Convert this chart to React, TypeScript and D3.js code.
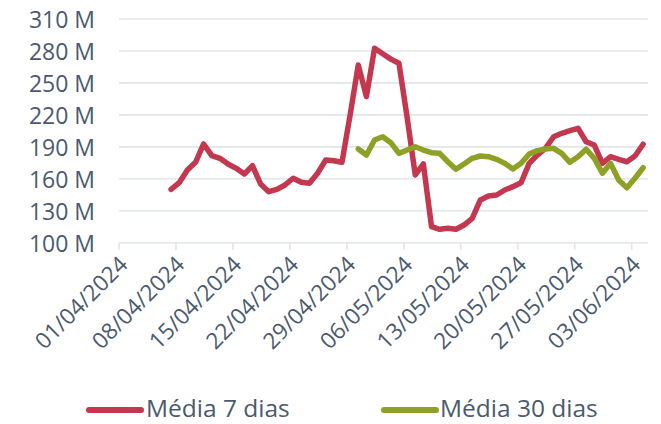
import React from "react";
import * as d3 from "d3";

const startDate7 = "2024-04-07";
const startDate30 = "2024-04-30";
const media7: number[] = [
  150.1, 156.3, 168.2, 175.5, 192.7, 181.7, 179.2, 173.9, 169.8, 164.5,
  172.3, 155.1, 147.9, 150.1, 154.2, 160.5, 156.7, 155.8, 165.2, 177.6,
  177.0, 175.5, 220.0, 266.8, 237.1, 282.5, 277.4, 272.3, 268.4, 217.8,
  163.6, 173.9, 115.0, 112.6, 113.5, 112.6, 116.6, 122.9, 140.1, 143.8,
  144.8, 149.5, 152.6, 156.3, 174.5, 182.3, 188.6, 199.5, 202.7, 205.1,
  207.4, 194.8, 191.7, 174.5, 180.7, 178.3, 176.0, 181.4, 192.4,
];
const media30: number[] = [
  188.0, 182.3, 196.4, 199.5, 193.9, 183.9, 187.0, 190.1, 187.0, 184.5,
  183.9, 176.0, 168.9, 173.9, 179.2, 181.4, 180.7, 178.3, 174.5, 169.2,
  174.5, 183.3, 186.4, 188.0, 188.6, 183.9, 175.5, 180.7, 187.7, 179.2,
  165.2, 174.5, 158.9, 151.6, 160.5, 170.4,
];
const yTicks: number[] = [100, 130, 160, 190, 220, 250, 280, 310];
const xTickLabels: string[] = [
  "01/04/2024", "08/04/2024", "15/04/2024", "22/04/2024", "29/04/2024",
  "06/05/2024", "13/05/2024", "20/05/2024", "27/05/2024", "03/06/2024",
];
const seriesNames = ["Média 7 dias", "Média 30 dias"];

const RED = "#c3384f";
const GREEN = "#8ea126";
const TEXT = "#4b5a6e";
const GRID = "#e1e6ec";
const FONT = "'Open Sans', sans-serif";

const parseDMY = (s: string) => {
  const [d, m, y] = s.split("/").map(Number);
  return new Date(Date.UTC(y, m - 1, d));
};
const DAY = 86400000;
const toSeries = (start: string, vals: number[]) => {
  const t0 = new Date(start + "T00:00:00Z").getTime();
  // points are stamped a little after midnight in the source
  return vals.map((v, i) => ({ date: new Date(t0 + i * DAY + 0.4 * DAY), value: v }));
};

export default function App() {
  const W = 661, H = 424;
  const x = d3
    .scaleUtc()
    .domain([new Date(Date.UTC(2024, 3, 1)), new Date(Date.UTC(2024, 5, 5))])
    .range([119, 648]);
  const y = d3.scaleLinear().domain([100, 310]).range([242.7, 19]);

  const line = d3
    .line<{ date: Date; value: number }>()
    .x((d) => x(d.date))
    .y((d) => y(d.value));

  const s7 = toSeries(startDate7, media7);
  const s30 = toSeries(startDate30, media30);

  return (
    <svg
      width={W}
      height={H}
      style={{ position: "absolute", left: 0, top: 0, background: "#fff" }}
      fontFamily={FONT}
    >
      {yTicks.map((t) => (
        <g key={t}>
          <line x1={119} x2={648} y1={y(t)} y2={y(t)} stroke={GRID} strokeWidth={1.6} />
          <text
            x={95}
            y={y(t)}
            textAnchor="end"
            dominantBaseline="central"
            fontSize={23}
            fill={TEXT}
          >
            {t} M
          </text>
        </g>
      ))}
      {xTickLabels.map((lab) => {
        const xx = x(parseDMY(lab));
        return (
          <g key={lab}>
            <line x1={xx} x2={xx} y1={243} y2={250} stroke={GRID} strokeWidth={1.6} />
            <text
              transform={`translate(${xx + 10},${266}) rotate(-45)`}
              textAnchor="end"
              fontSize={22.5}
              fill={TEXT}
            >
              {lab}
            </text>
          </g>
        );
      })}
      <path d={line(s7) || ""} fill="none" stroke={RED} strokeWidth={5.5} strokeLinejoin="round" strokeLinecap="round" />
      <path d={line(s30) || ""} fill="none" stroke={GREEN} strokeWidth={5.5} strokeLinejoin="round" strokeLinecap="round" />

      <g>
        <line x1={89} x2={141} y1={410} y2={410} stroke={RED} strokeWidth={6} strokeLinecap="round" />
        <text x={146} y={417} fontSize={24.5} fill={TEXT}>
          {seriesNames[0]}
        </text>
        <line x1={384} x2={436} y1={410} y2={410} stroke={GREEN} strokeWidth={6} strokeLinecap="round" />
        <text x={440} y={417} fontSize={24.5} fill={TEXT}>
          {seriesNames[1]}
        </text>
      </g>
    </svg>
  );
}
